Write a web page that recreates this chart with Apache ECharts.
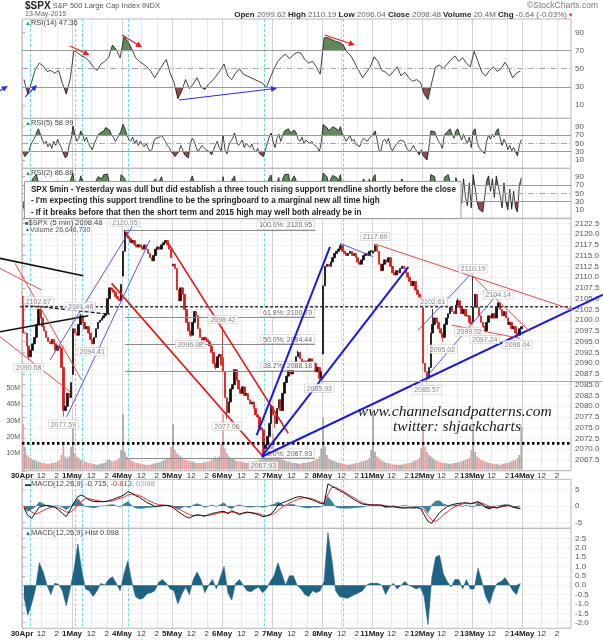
<!DOCTYPE html>
<html><head><meta charset="utf-8">
<script src="https://cdn.jsdelivr.net/npm/echarts@6/dist/echarts.min.js"></script>
<style>html,body{margin:0;padding:0;background:#fff}#c{width:603px;height:640px}</style>
</head><body><div id="c"></div>
<script>
// ---------------- DATA ----------------
const days = ['30Apr','1May','4May','5May','6May','7May','8May','11May','12May','13May','14May'];
const dayOpen = [2105.52, 2087.38, 2110.23, 2112.63, 2091.26, 2079.96, 2092.13, 2115.56, 2102.87, 2099.62];
// 15-minute closes, 26 per day
const close15 = [
 2097,2097,2094,2091.5,2093,2094.5,2096,2099,2102.5,2100.5,2098.5,2097.5,2096,2095,2094.5,2095.5,2094.5,2093,2094,2093.5,2089,2079,2080,2083,2082,2085.5,
 2098,2097,2096.5,2099,2101,2099.5,2098,2098.5,2097,2095.5,2094.5,2096,2098,2099.5,2100,2100.5,2101,2101.5,2105,2107.5,2107,2106.5,2105.5,2105,2104.5,2108.3,
 2116,2120.5,2119.5,2119,2118,2118.5,2117.5,2117,2117.5,2117,2116.5,2117.5,2116.5,2115.5,2114.5,2113.8,2115,2116.5,2117,2116.5,2117.5,2118,2118.5,2117.5,2116.5,2114.5,
 2113,2112,2107,2104.5,2107.5,2106,2102.5,2099.5,2097.5,2096.5,2099.5,2102,2101,2098,2096,2094.5,2096,2095.5,2095,2094,2092.5,2090,2089,2091.5,2092,2089.5,
 2088,2082,2078.5,2081,2084,2085,2088.5,2086,2084,2083,2084.5,2082.5,2083,2081.5,2080.5,2081,2079.5,2078,2077.5,2075,2074.5,2068.5,2071,2073,2076,2080.2,
 2078,2076,2079.5,2081.5,2079,2083,2085.5,2087,2089,2087.5,2089,2090,2091.5,2092.5,2091,2089.5,2090.5,2089,2090.5,2091,2089.5,2090,2088,2089,2086.5,2088,
 2108,2112.5,2113,2112.5,2113.5,2114.5,2115.5,2116,2116.5,2117.3,2116,2115.5,2115,2115.5,2116,2115,2115.5,2114.5,2113.5,2113,2114,2115,2115.5,2115,2116,2116.1,
 2116,2117.3,2116,2113,2111.5,2113,2114,2113.5,2114.5,2112.5,2111,2110.5,2111.5,2111,2112,2112.5,2112,2111,2110,2109,2108,2109,2107,2106,2105,2105.3,
 2090,2088,2086.5,2089,2097,2099,2100.5,2099.5,2098,2097,2096,2099,2100.5,2101.5,2103,2102,2101.5,2103.5,2104.5,2103,2101.5,2102.5,2101,2101,2099.5,2099.1,
 2103,2106,2103,2101,2099.5,2098.5,2097.5,2099.5,2101,2100.5,2101.5,2100.5,2103,2104,2102.5,2101,2102,2100.5,2099,2099.5,2098,2098.5,2097,2096.5,2098,2098.48
];
// intraday extremes [pointIndex, price]
const wickHighs = [[0,2105.52],[8,2102.67],[30,2101.46],[51,2108.41],[53,2120.95],[104,2098.42],[143,2092.90],[165,2117.66],[183,2117.69],[213,2102.61],[226,2105.06],[234,2110.19],[247,2104.14]];
const wickLows = [[3,2090.68],[21,2077.59],[36,2094.41],[87,2096.08],[100,2088.46],[106,2077.06],[125,2067.93],[131,2074.99],[154,2085.93],[206,2104.58],[210,2085.57],[218,2095.02],[232,2099.02],[240,2097.24],[257,2096.04]];
// labelled points [pointIndex, price, side]
const labelPoints = [[8,2102.67,'top'],[3,2090.68,'bottom'],[30,2101.46,'top'],[36,2094.41,'bottom'],[21,2077.59,'bottom'],[53,2120.95,'top'],
 [87,2096.08,'bottom'],[104,2098.42,'top'],[106,2077.06,'bottom'],[125,2067.93,'bottom'],[154,2085.93,'bottom'],[183,2117.69,'top'],
 [210,2085.57,'bottom'],[218,2095.02,'bottom'],[232,2099.02,'bottom'],[234,2110.19,'top'],[240,2097.24,'bottom'],[247,2104.14,'top'],[257,2096.04,'bottom'],[213,2102.61,'top']];
// volume (millions), 26 per day
const volume15 = [
 28,14,9,8,7,6,6,5,5,4.5,4,4,3.5,3.5,3.5,4,4,4.5,5,6,9,17,8,7,8,14,
 26,10,8,7,6,5,5,4.5,4,4,3.5,3.5,3,3,3.5,3.5,4,4.5,6,6,5,5,5.5,6,7,12,
 34,11,8,7,6,5,4.5,4,4,3.5,3.5,3,3,3,3,3.5,3.5,4,4,4.5,5,5.5,6,6.5,7,14,
 28,12,10,9,8,7,6,6,5.5,5,5,4.5,4,4,4,4,4.5,4.5,5,5,6,7,8,7,8,16,
 34,13,10,8,7,6.5,6,5.5,5,5,4.5,4.5,4,4,4,4.5,5,5,5.5,6,7,10,8,7,8,14,
 22,12,9,8,7,6,5.5,5,5,4.5,4,4,4,3.5,3.5,4,4,4,4.5,4.5,5,5.5,6,6.5,8,13,
 32,14,9,7,6,5.5,5,4.5,4,4,3.5,3.5,3,3,3,3.5,3.5,4,4,4.5,5,5,5.5,6,7,12,
 34,11,8,7,6,5,4.5,4,4,3.5,3.5,3,3,3,3,3,3.5,3.5,4,4,4.5,5,5.5,6,7,13,
 28,14,11,9,8,7,6,5.5,5,4.5,4,4,4,3.5,3.5,3.5,4,4,4.5,4.5,5,5.5,6,6.5,7,12,
 28,11,8,7,6,5.5,5,4.5,4,4,3.5,3.5,3.5,3,3,3.5,3.5,4,4,4.5,5,5.5,6,7,9,26.6
];
// RSI(14), 13 per day (30-min)
const rsi14 = [
 38,22,35,50,56,53,47,48,45,48,34,22,38,
 70,67,64,62,58,52,48,55,58,62,76,71,62,
 85,80,72,62,58,55,52,47,40,47,54,60,45,
 35,17,25,38,28,33,40,30,27,33,37,42,48,
 55,42,38,45,50,44,42,40,38,36,34,29,40,
 50,58,63,66,61,65,68,67,60,56,58,52,44,
 84,84,82,80,79,76,68,64,56,48,40,46,52,
 63,58,48,46,42,47,52,42,46,40,36,38,35,
 22,16,35,52,54,50,55,60,64,58,62,56,52,
 69,58,46,42,48,52,47,50,57,50,40,45,47.36
];
// RSI(5), 26 per day
const rsi5 = [
 28,18,15,30,45,55,62,75,85,82,60,48,55,42,50,38,55,45,60,48,40,25,15,20,45,60,
 92,70,55,62,80,72,55,65,50,42,35,48,60,70,75,72,80,88,90,82,70,65,55,62,58,80,
 96,85,70,60,55,65,50,58,45,55,48,42,50,40,30,35,55,62,58,65,70,62,55,45,40,30,
 25,18,14,30,45,35,22,18,15,50,62,55,40,30,28,45,40,35,38,30,22,18,45,55,40,32,
 70,35,25,45,55,62,75,55,45,48,58,40,50,45,40,48,35,30,38,25,28,18,35,50,65,75,
 55,40,62,72,55,70,80,82,85,75,78,82,75,60,55,65,50,58,62,50,55,48,52,40,30,50,
 95,92,88,80,85,90,88,85,80,90,72,65,55,62,70,55,60,48,45,42,55,62,58,55,62,60,
 72,80,60,35,30,55,60,52,62,40,32,30,48,45,58,62,55,42,35,30,28,45,35,30,22,35,
 20,15,10,40,80,82,78,65,55,48,38,70,75,80,85,72,62,80,85,70,58,72,60,50,65,40,
 80,85,55,40,35,30,25,55,70,60,72,65,80,85,62,45,60,50,35,45,32,40,30,20,45,58.99
];
// RSI(2), 26 per day
const rsi2 = [
 20,8,5,40,70,85,90,95,92,60,30,55,70,25,60,20,75,40,80,30,15,5,3,10,70,85,
 98,60,30,70,92,80,35,75,30,20,10,55,80,90,92,85,95,97,96,70,40,35,20,60,40,95,
 99,85,55,30,25,70,30,60,20,65,40,30,55,25,10,20,80,85,60,80,90,70,45,25,20,8,
 10,5,3,40,75,35,10,6,4,80,92,75,30,15,10,60,40,30,45,20,8,5,70,80,40,20,
 90,20,8,55,75,85,92,50,25,40,80,20,60,40,25,55,15,10,35,6,12,3,45,70,88,94,
 50,20,75,88,40,85,95,92,96,70,85,92,80,35,30,70,25,60,75,30,60,25,50,15,8,60,
 99,97,90,70,85,93,92,88,80,95,55,40,30,60,80,35,65,25,20,15,70,85,75,55,85,70,
 88,95,40,10,8,70,80,45,80,20,12,10,60,40,75,85,60,25,15,10,8,55,25,15,5,40,
 8,4,2,55,95,97,90,50,30,25,10,88,92,95,97,60,35,88,92,55,25,85,40,20,75,15,
 95,97,30,12,8,5,4,80,92,55,85,40,92,95,45,15,75,30,10,60,12,55,15,5,70,86.88
];
// MACD(12,26,9), 13 per day
const macd = [
 -0.5,-2.8,-3.7,-2.0,-0.3,0.0,0.2,0.0,-0.3,-1.2,-2.2,-3.2,-1.2,
 1.0,2.8,3.3,2.6,1.8,1.4,1.3,1.3,1.3,1.6,1.9,2.4,2.8,
 3.3,4.3,3.9,3.1,2.6,1.8,1.0,0.5,-0.1,-0.1,0.1,0.2,0.0,
 -0.7,-1.6,-2.4,-3.2,-3.6,-3.0,-2.6,-2.8,-3.1,-2.6,-2.2,-2.0,-1.7,
 -1.6,-2.3,-1.4,-2.0,-2.6,-2.1,-1.8,-2.0,-2.3,-2.6,-3.2,-3.0,-2.5,
 -1.5,0.3,0.9,1.3,1.8,2.3,2.7,2.8,2.5,2.2,1.8,1.3,0.8,
 0.6,6.6,6.0,5.3,4.6,4.0,3.3,2.5,1.8,1.1,0.6,0.4,0.3,
 0.3,0.3,0.2,-0.2,-0.3,-0.2,-0.4,-0.6,-0.6,-0.5,-0.6,-0.5,-0.7,
 -2.6,-4.6,-5.2,-3.5,-2.0,-1.0,-0.2,0.3,0.6,0.8,0.9,1.0,0.6,
 1.0,1.3,0.6,-0.3,-0.7,-0.4,-0.6,-0.1,0.2,0.3,-0.3,-0.6,-0.715
];
const signal = [
 0.0,-0.8,-1.8,-2.4,-2.0,-1.4,-0.8,-0.4,-0.3,-0.6,-1.1,-1.8,-1.9,
 -1.0,0.2,1.5,2.2,2.2,1.9,1.6,1.4,1.3,1.4,1.5,1.9,2.3,
 2.6,3.3,3.6,3.4,3.1,2.6,1.9,1.3,0.8,0.4,0.3,0.2,0.1,
 -0.2,-0.7,-1.3,-2.0,-2.6,-2.9,-2.8,-2.8,-2.9,-2.8,-2.6,-2.3,-2.0,
 -1.9,-2.0,-1.8,-1.9,-2.2,-2.2,-2.0,-2.0,-2.1,-2.3,-2.7,-2.9,-2.7,
 -2.3,-1.4,-0.4,0.3,0.9,1.4,1.9,2.3,2.5,2.4,2.1,1.7,1.2,
 1.0,3.5,5.6,5.6,5.0,4.4,3.7,3.0,2.3,1.6,1.0,0.6,0.4,
 0.3,0.3,0.3,0.1,-0.1,-0.2,-0.3,-0.4,-0.5,-0.5,-0.5,-0.5,-0.6,
 -1.2,-2.8,-4.2,-4.6,-3.8,-2.7,-1.8,-0.9,-0.2,0.3,0.6,0.8,0.8,
 0.8,1.0,0.9,0.4,-0.1,-0.3,-0.5,-0.3,-0.1,0.1,-0.1,-0.5,-0.813
];
const hist = [
 -0.6,-1.6,-1.0,-0.2,1.2,0.7,0.0,-0.5,0.1,0.05,-0.3,-1.1,-0.2,
 0.8,2.2,0.8,-0.2,-0.3,-0.6,-0.3,0.1,0.0,0.3,0.45,0.1,-0.3,
 0.6,1.3,0.2,-0.6,-0.75,-0.7,-0.45,-0.4,-0.3,0.15,0.3,0.1,-0.2,
 -0.3,-1.0,-0.5,-0.1,-0.5,0.3,0.7,0.3,-0.4,0.0,0.3,-0.2,0.4,
 1.0,-0.4,-0.8,0.1,0.3,0.0,-0.3,-0.35,-0.2,-0.1,-0.4,-0.2,0.2,
 0.5,1.2,0.6,0.0,0.5,0.5,0.0,-0.2,-0.5,-0.6,-0.3,-0.4,-0.3,
 0.2,2.8,1.4,-0.3,-0.6,-0.65,-0.7,-0.6,-0.5,-0.4,-0.3,0.0,0.1,
 0.1,0.1,0.0,-0.5,-0.1,0.1,-0.2,0.0,0.2,0.0,-0.1,-0.2,-0.1,
 -0.6,-2.1,0.4,1.5,1.6,0.6,0.2,-0.1,0.3,0.3,-0.2,0.3,-0.2,
 -0.2,0.9,0.2,-0.6,-1.0,-0.3,0.1,0.2,0.4,0.1,-0.3,-0.5,0.098
];
// Fibonacci retracement levels
const fibLevels = [['100.0%',2120.95],['61.8%',2100.70],['50.0%',2094.44],['38.2%',2088.18],['0.0%',2067.93]];
const fibSpan = [160.5, 457];
// annotation trendlines in data coords [bar, price, bar, price, style]
const mainLines = [
 [-34.3,2114.36,95.6,2110.31,'black'],
 [-34.3,2097.31,103.4,2101.02,'black'],
 [4.7,2103.51,137.2,2101.35,'blackDash'],
 [-3,2103.11,856,2103.11,'hDash'],
 [0,2071.38,854,2071.38,'dotted'],
 [-34.3,2112.03,30.7,2106.99,'redThin'],
 [-10.9,2113.19,93.1,2086.09,'redThin'],
 [-34.3,2096.14,74.8,2083.37,'redThin'],
 [139.8,2108.55,376.2,2068.27,'red'],
 [228.1,2117.84,415.2,2073.71,'red'],
 [365.9,2073.31,480.2,2117.05,'blue'],
 [373.7,2068.27,602.3,2112.40,'blue'],
 [373.7,2068.27,905.8,2105.92,'blue'],
 [43.7,2090.73,173.5,2122.09,'blueThin'],
 [69.7,2077.56,199.6,2118.61,'blueThin'],
 [617.9,2097.70,698.5,2110.48,'blueThin'],
 [625.7,2085.92,740.1,2105.83,'blueThin'],
 [495.8,2117.84,547.7,2114.73,'blueThin'],
 [550.4,2117.68,859.5,2102.35,'redThin'],
 [701.1,2110.48,792.0,2097.31,'redThin'],
 [669.9,2098.86,776.4,2095.77,'redThin'],
 [464.6,2085.74,905.8,2085.74,'pink']
];
// RSI(14) arrows [bar, rsi, bar, rsi, colour]
const rsiArrows = [[74.8,74.9,105.2,65,'red'],[156,87,187,73.5,'red'],[472,87,519,76,'red'],
 [244.8,15.5,397.6,28.4,'blue'],[5,19,23.4,32,'blue'],[-34.3,25.8,-22.1,31,'blue']];
const cyanMarks = [12, 83, 94, 166, 378, 500];
const noteLines = [
 'SPX 5min - Yesterday was dull but did establish a three touch rising support trendline shortly before the close',
 "- I'm expecting this support trendline to be the springboard to a marginal new all time high",
 '- If it breaks before that then the short term and 2015 high may well both already be in'
];

// ---------------- BUILD ----------------
const FF = '"Liberation Sans", Arial, sans-serif';
const BARS_PER_DAY = 78, XMAX = 856;
const x15 = i => 3 * i + 1.5;
const x30 = i => 6 * i + 3;
const hiMap = {}, loMap = {};
wickHighs.forEach(([i, v]) => hiMap[i] = v);
wickLows.forEach(([i, v]) => loMap[i] = v);
const candles = close15.map((c, i) => {
  const o = i % 26 === 0 ? dayOpen[i / 26] : close15[i - 1];
  let lo = Math.min(o, c), hi = Math.max(o, c);
  if (loMap[i] != null) lo = Math.min(lo, loMap[i]);
  if (hiMap[i] != null) hi = Math.max(hi, hiMap[i]);
  return [x15(i), o, c, lo, hi];
});
const volData = volume15.map((v, i) => ({
  value: [x15(i), v],
  itemStyle: { color: candles[i][2] >= candles[i][1] ? '#a8a8a8' : '#e3a0a0' }
}));

const gridDefs = [[32.3, 72.7], [126.7, 33.3], [176.7, 33.3], [219, 251.8], [388.25, 81.25], [489.3, 33.4], [538.3, 84.4]];
const grid = gridDefs.map(([t, h]) => ({ left: 22, right: 32, top: t, height: h, containLabel: false, outerBoundsMode: 'none', show: false }));

function dateFmt(v) {
  const r = ((v % BARS_PER_DAY) + BARS_PER_DAY) % BARS_PER_DAY;
  if (r === 0) return '{b|' + (days[v / BARS_PER_DAY] || '') + '}';
  if (r === 30) return '12';
  if (r === 54) return '2';
  return '';
}
const xAxis = grid.map((g, i) => ({
  type: 'value', gridIndex: i, min: 0, max: XMAX, interval: 6,
  axisLine: { show: false }, axisTick: { show: false }, splitLine: { show: false },
  axisLabel: (i === 3 || i === 6) ? {
    show: true, margin: i === 3 ? 1 : 7, fontSize: 8, color: '#333', fontFamily: FF,
    formatter: dateFmt, rich: { b: { fontWeight: 'bold', fontSize: 8, color: '#222', fontFamily: FF } }
  } : { show: false }
}));
const tickCfg = { show: true, length: 3, lineStyle: { color: '#aaa' } };
const lblCfg = { fontSize: 8, color: '#555', fontFamily: FF, margin: 4 };
function rsiAxis(i) {
  return { type: 'value', gridIndex: i, position: 'right', min: 10, max: 90, interval: 20,
    axisLine: { show: false }, axisTick: tickCfg, splitLine: { show: false }, axisLabel: lblCfg };
}
const yAxis = [
  rsiAxis(0), rsiAxis(1), rsiAxis(2),
  { type: 'value', gridIndex: 3, position: 'right', min: 2065, max: 2123.5, interval: 2.5,
    axisLine: { show: false }, axisTick: tickCfg, splitLine: { show: true, lineStyle: { color: '#f1f1f1' } },
    axisLabel: Object.assign({}, lblCfg, { formatter: v => (v < 2066 || v > 2123) ? '' : v.toFixed(1) }) },
  { type: 'value', gridIndex: 4, position: 'left', min: 0, max: 50, interval: 10,
    axisLine: { show: false }, axisTick: { show: false }, splitLine: { show: false },
    axisLabel: { fontSize: 7, color: '#555', fontFamily: FF, margin: 2, formatter: v => v ? v + 'M' : '' } },
  { type: 'value', gridIndex: 5, position: 'right', min: -5, max: 5, interval: 5,
    axisLine: { show: false }, axisTick: tickCfg, splitLine: { show: true, lineStyle: { color: '#f1f1f1' } }, axisLabel: lblCfg },
  { type: 'value', gridIndex: 6, position: 'right', min: -2, max: 2.5, interval: 0.5,
    axisLine: { show: false }, axisTick: tickCfg, splitLine: { show: true, lineStyle: { color: '#f1f1f1' } },
    axisLabel: Object.assign({}, lblCfg, { formatter: v => v.toFixed(1) }) }
];

const rsiLevels = {
  silent: true, symbol: ['none', 'none'], label: { show: false },
  data: [
    { yAxis: 70, lineStyle: { color: '#9a9a9a', width: 1, type: 'solid' } },
    { yAxis: 30, lineStyle: { color: '#9a9a9a', width: 1, type: 'solid' } },
    { yAxis: 50, lineStyle: { color: '#a8a8a8', width: 1, type: [6, 2, 1, 2] } }
  ]
};
function rsiSeries(arr, gi, xf) {
  const data = arr.map((v, i) => [xf(i), v]);
  return [
    { type: 'line', xAxisIndex: gi, yAxisIndex: gi, data, symbol: 'none', clip: false, silent: true, z: 2,
      lineStyle: { width: 0, opacity: 0 }, areaStyle: { origin: 50, opacity: 1 } },
    { type: 'line', xAxisIndex: gi, yAxisIndex: gi, data, symbol: 'none', clip: false, silent: true, z: 3,
      lineStyle: { color: '#111', width: 0.8 }, markLine: rsiLevels }
  ];
}

const series = [
  ...rsiSeries(rsi14, 0, x30),
  ...rsiSeries(rsi5, 1, x15),
  ...rsiSeries(rsi2, 2, x15),
  { type: 'candlestick', xAxisIndex: 3, yAxisIndex: 3, data: candles, encode: { x: 0, y: [1, 2, 3, 4] },
    barWidth: '100%', z: 4, silent: true,
    itemStyle: { color: '#111', color0: '#e01818', borderColor: '#111', borderColor0: '#e01818', borderWidth: 0.8 },
    markLine: {
      silent: true, symbol: ['none', 'none'],
      lineStyle: { color: '#8c8c8c', width: 1, type: 'solid' },
      label: { show: true, position: 'insideEndTop', formatter: '{b}', fontSize: 7, color: '#666', fontFamily: FF,
        backgroundColor: '#fff', borderColor: '#bbb', borderWidth: 0.5, padding: [1, 2, 0, 2], distance: 1 },
      data: fibLevels.map(([p, v]) => [{ coord: [fibSpan[0], v], name: p + ': ' + v.toFixed(2) }, { coord: [fibSpan[1], v] }])
    } },
  { type: 'scatter', xAxisIndex: 3, yAxisIndex: 3, z: 8, silent: true, symbolSize: 1, itemStyle: { color: 'rgba(0,0,0,0)' },
    data: labelPoints.map(([i, v, pos]) => ({ value: [x15(i), v], label: { position: pos } })),
    label: { show: true, formatter: p => p.value[1].toFixed(2), fontSize: 7, color: '#666', fontFamily: FF,
      backgroundColor: '#fff', borderColor: '#bbb', borderWidth: 0.5, padding: [1, 2, 0, 2], distance: 3 },
    labelLayout: { hideOverlap: false } },
  { type: 'bar', xAxisIndex: 4, yAxisIndex: 4, data: volData, barWidth: 1.7, z: 1, silent: true },
  { type: 'line', xAxisIndex: 5, yAxisIndex: 5, data: hist.map((v, i) => [x30(i), v]), symbol: 'none', clip: false, silent: true, z: 2,
    lineStyle: { color: '#2a7392', width: 0.5 }, areaStyle: { origin: 0, color: '#2a7392', opacity: 0.9 } },
  { type: 'line', xAxisIndex: 5, yAxisIndex: 5, data: signal.map((v, i) => [x30(i), v]), symbol: 'none', clip: false, silent: true, z: 3,
    lineStyle: { color: '#e83030', width: 1 } },
  { type: 'line', xAxisIndex: 5, yAxisIndex: 5, data: macd.map((v, i) => [x30(i), v]), symbol: 'none', clip: false, silent: true, z: 4,
    lineStyle: { color: '#111', width: 1 } },
  { type: 'line', xAxisIndex: 6, yAxisIndex: 6, data: hist.map((v, i) => [x30(i), v]), symbol: 'none', clip: false, silent: true, z: 2,
    lineStyle: { color: '#1f6384', width: 0.6 }, areaStyle: { origin: 0, color: '#1f6384', opacity: 1 } }
];

const fillPieces = [{ gt: 70, color: '#5f8a5c' }, { gte: 30, lte: 70, color: 'rgba(255,255,255,0)' }, { lt: 30, color: '#8e4d4d' }];
const visualMap = [0, 2, 4].map(si => ({ type: 'piecewise', show: false, seriesIndex: si, dimension: 1, pieces: fillPieces }));

const chart = echarts.init(document.getElementById('c'), null, { renderer: 'canvas', width: 603, height: 640 });
chart.setOption({ animation: false, backgroundColor: '#fff', textStyle: { fontFamily: FF }, grid, xAxis, yAxis, series, visualMap });

// ---------------- OVERLAYS (positioned through the chart's own scales) ----------------
const G = [];
const toPx = (gi, x, y) => chart.convertToPixel({ xAxisIndex: gi, yAxisIndex: gi }, [x, y]);
const xPx = x => chart.convertToPixel({ xAxisIndex: 3 }, x);
const panels = [[19, 118.3], [118.3, 168.3], [168.3, 218.3], [218.3, 470.6], [479.3, 528.3], [528.3, 628.3]];
const L = xPx(0), R = xPx(XMAX);
const gridTicks = [];
for (let d = 0; d < days.length; d++) [0, 30, 54].forEach(o => gridTicks.push(d * BARS_PER_DAY + o));
gridTicks.forEach(t => {
  const X = Math.round(xPx(t)) + 0.5;
  panels.forEach(([a, b]) => G.push({ type: 'line', z: 0, silent: true, shape: { x1: X, y1: a, x2: X, y2: b },
    style: { stroke: t % BARS_PER_DAY === 0 ? '#d2d2d2' : '#e9e9e9', lineWidth: 1 } }));
});
cyanMarks.forEach(t => {
  const X = Math.round(xPx(t)) + 0.5;
  panels.forEach(([a, b]) => G.push({ type: 'line', z: 1, silent: true, shape: { x1: X, y1: a, x2: X, y2: b },
    style: { stroke: '#5fe0f0', lineWidth: 1, lineDash: [3, 2] } }));
});
panels.forEach(([a, b]) => G.push({ type: 'rect', z: 1, silent: true, shape: { x: L, y: a, width: R - L, height: b - a },
  style: { fill: 'none', stroke: '#b8b8b8', lineWidth: 1 } }));

const lineStyles = {
  black: { stroke: '#111', lineWidth: 1.6 },
  blackDash: { stroke: '#111', lineWidth: 1.2, lineDash: [4, 2] },
  hDash: { stroke: '#333', lineWidth: 1.3, lineDash: [3, 2] },
  dotted: { stroke: '#000', lineWidth: 2.6, lineDash: [2.5, 2.5] },
  redThin: { stroke: '#f04545', lineWidth: 1 },
  red: { stroke: '#ee1010', lineWidth: 1.6 },
  blue: { stroke: '#1a1ae6', lineWidth: 2 },
  blueThin: { stroke: '#5555f2', lineWidth: 1 },
  pink: { stroke: '#f28a8a', lineWidth: 1 }
};
mainLines.forEach(([x1, y1, x2, y2, s]) => {
  const p = toPx(3, x1, y1), q = toPx(3, x2, y2);
  G.push({ type: 'line', z: 6, silent: true, shape: { x1: p[0], y1: p[1], x2: q[0], y2: q[1] }, style: Object.assign({}, lineStyles[s]) });
});
function arrow(p, q, color) {
  const dx = q[0] - p[0], dy = q[1] - p[1], len = Math.hypot(dx, dy) || 1, ux = dx / len, uy = dy / len, h = 6, w = 3;
  G.push({ type: 'line', z: 6, silent: true, shape: { x1: p[0], y1: p[1], x2: q[0] - ux * h * 0.7, y2: q[1] - uy * h * 0.7 }, style: { stroke: color, lineWidth: 1.2 } });
  G.push({ type: 'polygon', z: 6, silent: true, shape: { points: [[q[0], q[1]], [q[0] - ux * h - uy * w, q[1] - uy * h + ux * w], [q[0] - ux * h + uy * w, q[1] - uy * h - ux * w]] }, style: { fill: color } });
}
rsiArrows.forEach(([x1, v1, x2, v2, c]) => arrow(toPx(0, x1, v1), toPx(0, x2, v2), c === 'red' ? '#f01a1a' : '#2233ee'));

function txt(x, y, text, style, extra) {
  G.push(Object.assign({ type: 'text', z: 30, silent: true, x, y,
    style: Object.assign({ text, fontSize: 8, fontFamily: FF, fill: '#333', align: 'left', verticalAlign: 'middle' }, style) }, extra || {}));
}
// header
txt(25, 6, '{t|$SPX} {s|S&P 500 Large Cap Index INDX}', { rich: { t: { fontSize: 10, fontWeight: 'bold', fill: '#222', fontFamily: FF }, s: { fontSize: 7.5, fill: '#555', fontFamily: FF } } });
txt(25, 14.5, '13-May-2015', { fontSize: 7, fill: '#666' });
txt(598, 6, '\u00A9StockCharts.com', { fontSize: 8.5, fill: '#777', align: 'right' });
txt(567, 15, '{b|Open} 2099.62 {b|High} 2110.19 {b|Low} 2096.04 {b|Close} 2098.48 {b|Volume} 20.4M {b|Chg} -0.64 (-0.03%)',
  { fontSize: 8, fill: '#666', align: 'right', rich: { b: { fontWeight: 'bold', fill: '#222', fontSize: 8, fontFamily: FF } } });
txt(568, 15.5, '\u25BC', { fontSize: 5.5, fill: '#d01010' });
// panel titles
const icon = { fontSize: 6, fill: '#3d8a4a', fontFamily: FF };
txt(25, 23, '{i|\u25B2}RSI(14) 47.36', { fontSize: 7.5, fill: '#444', rich: { i: icon } });
txt(25, 123, '{i|\u25B2}RSI(5) 58.99', { fontSize: 7.5, fill: '#444', rich: { i: icon } });
txt(25, 173, '{i|\u25B2}RSI(2) 86.88', { fontSize: 7.5, fill: '#444', rich: { i: icon } });
txt(25, 223, '{i|\u25A0}$SPX (5 min) 2098.48', { fontSize: 7.5, fill: '#444', rich: { i: { fontSize: 6, fill: '#555' } } });
txt(25, 230, '{i|\u25B2}Volume 26,646,730', { fontSize: 7, fill: '#555', rich: { i: { fontSize: 5, fill: '#555' } } });
txt(25, 484, '{i|\u25AC}MACD(12,26,9) -0.715, {r|-0.813,} {c|0.098}', { fontSize: 7.5, fill: '#444',
  rich: { i: { fontSize: 6, fill: '#333' }, r: { fill: '#e03535', fontSize: 7.5, fontFamily: FF }, c: { fill: '#8a9ae0', fontSize: 7.5, fontFamily: FF } } });
txt(25, 533, '{i|\u25B2}MACD(12,26,9) Hist 0.098', { fontSize: 7.5, fill: '#444', rich: { i: { fontSize: 6, fill: '#1f6384' } } });

// note box
const mctx = document.createElement('canvas').getContext('2d');
const noteFont = 'bold 9.5px "Liberation Sans", Arial, sans-serif';
mctx.font = noteFont;
const noteScale = 425 / mctx.measureText(noteLines[0]).width;
G.push({ type: 'rect', z: 28, silent: true, shape: { x: 24.5, y: 181.5, width: 436.5, height: 37 }, style: { fill: '#fff', stroke: '#9a9a9a', lineWidth: 1 } });
noteLines.forEach((t, k) => txt(27, 189 + k * 11.5, t, { fontSize: 9.5, fontWeight: 'bold', fill: '#222' }, { scaleX: noteScale, originX: 27, originY: 189 + k * 11.5 }));

// watermark
mctx.font = 'italic 15px "Liberation Serif", serif';
const w1 = 'www.channelsandpatterns.com', w2 = 'twitter: shjackcharts';
txt(373, 412, w1, { fontSize: 15, fontStyle: 'italic', fontFamily: '"Liberation Serif", serif', fill: '#1a1a1a' }, { scaleX: 194 / mctx.measureText(w1).width, originX: 373, originY: 412 });
txt(407, 427, w2, { fontSize: 15, fontStyle: 'italic', fontFamily: '"Liberation Serif", serif', fill: '#1a1a1a' }, { scaleX: 128 / mctx.measureText(w2).width, originX: 407, originY: 427 });

chart.setOption({ graphic: { elements: G } });
</script></body></html>
